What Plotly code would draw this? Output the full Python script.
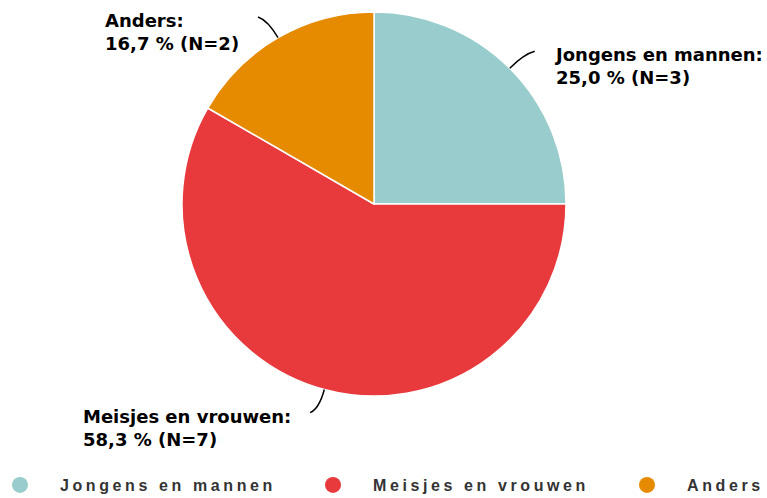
import math
import plotly.graph_objects as go

# ---- data ----
categories = ["Jongens en mannen", "Meisjes en vrouwen", "Anders"]
counts = [3, 7, 2]
colors = ["#99CCCC", "#E8393C", "#E68A00"]

W, H = 767, 498
CX, CY, R = 374, 204, 192  # pie centre / radius in pixels (layout)
legend_centers = [20, 333, 647]  # legend symbol centres (layout)
legend_widths = [290, 290, 158]

total = sum(counts)

fig = go.Figure()

fig.add_trace(go.Pie(
    labels=categories,
    values=counts,
    sort=False,
    direction="clockwise",
    rotation=0,
    marker=dict(colors=colors, line=dict(color="#ffffff", width=1.5)),
    textinfo="none",
    hoverinfo="label+value+percent",
    showlegend=False,
    domain=dict(x=[(CX - R) / W, (CX + R) / W],
                y=[1 - (CY + R) / H, 1 - (CY - R) / H]),
))

legend_font = dict(family="Liberation Sans Narrow, Arial Narrow, Liberation Sans",
                   size=16, color="#333333", weight="bold")
legend_names = ["legend", "legend2", "legend3"]
legend_layout = {}
for i, (cat, col) in enumerate(zip(categories, colors)):
    fig.add_trace(go.Scatter(
        x=[None], y=[None], mode="markers", name=cat,
        marker=dict(symbol="circle", size=18, color=col),
        showlegend=True, hoverinfo="skip", legend=legend_names[i],
    ))
    legend_layout[legend_names[i]] = dict(
        orientation="h", x=(legend_centers[i] - 40) / W, xanchor="left",
        y=1 - 485 / H, yanchor="middle", itemwidth=70,
        entrywidth=legend_widths[i], entrywidthmode="pixels",
        font=legend_font, bgcolor="rgba(0,0,0,0)",
    )

# labels with curved connectors, derived from slice angles
shapes = []
annotations = []
cum = 0
for cat, v in zip(categories, counts):
    mid = (cum + v / 2) / total * 2 * math.pi
    cum += v
    dx, dy = math.sin(mid), -math.cos(mid)
    sgn = 1 if dx >= 0 else -1
    p0 = (CX + R * dx, CY + R * dy)
    ctrl = (CX + (R + 20) * dx, CY + (R + 20) * dy)
    end = (CX + (R + 24) * dx + sgn * 8, CY + (R + 24) * dy)
    shapes.append(dict(
        type="path", xref="x", yref="y",
        path=f"M {p0[0]:.2f} {p0[1]:.2f} Q {ctrl[0]:.2f} {ctrl[1]:.2f} {end[0]:.2f} {end[1]:.2f}",
        line=dict(color="#000000", width=1.5),
    ))
    pct = f"{v / total * 100:.1f}".replace(".", ",")
    annotations.append(dict(
        xref="x", yref="y",
        x=end[0] + sgn * 17, y=end[1] + 15,
        xanchor="left" if sgn > 0 else "right", yanchor="middle",
        align="left", showarrow=False,
        text=f"{cat}:<br>{pct} % (N={v})",
        font=dict(family="DejaVu Sans", size=18, color="#000000", weight="bold"),
    ))

fig.update_layout(
    width=W, height=H,
    margin=dict(l=0, r=0, t=0, b=0, autoexpand=False),
    paper_bgcolor="#ffffff", plot_bgcolor="rgba(0,0,0,0)",
    xaxis=dict(range=[0, W], visible=False, domain=[0, 1], fixedrange=True),
    yaxis=dict(range=[H, 0], visible=False, domain=[0, 1], fixedrange=True),
    shapes=shapes,
    annotations=annotations,
    **legend_layout,
)

post = """
document.body.style.margin = '0';
document.body.style.padding = '0';
var st = document.createElement('style');
st.textContent = '.legendtext, .legend2text, .legend3text { letter-spacing: 3.6px; }';
document.head.appendChild(st);
"""

fig.write_html("out.html", post_script=post, config={"displayModeBar": False})
